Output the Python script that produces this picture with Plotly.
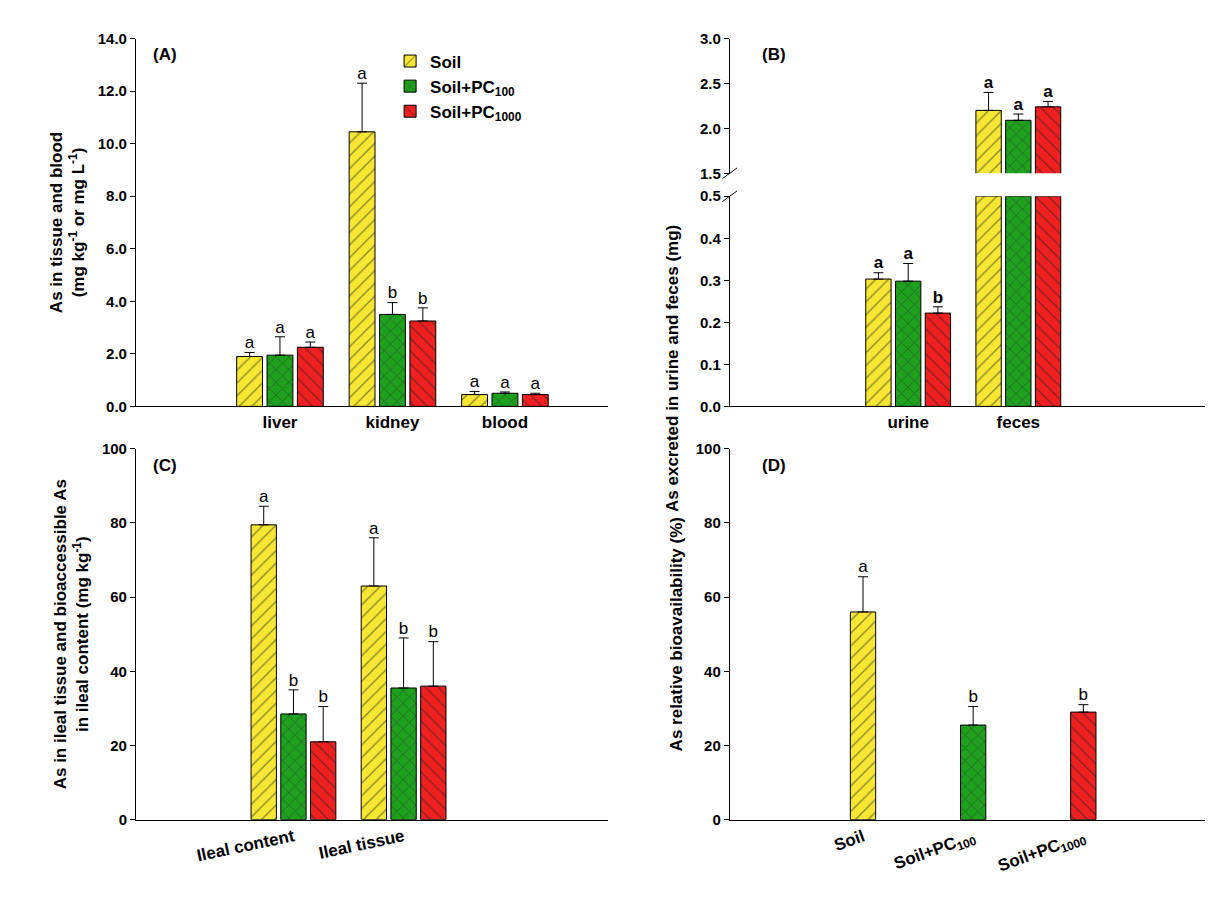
import plotly.graph_objects as go

# ---- data ----
groups = ["Soil", "Soil+PC<sub>100</sub>", "Soil+PC<sub>1000</sub>"]
colors = ["#F7E733", "#1FA01F", "#F02020"]
shapes = ["/", "x", "\\"]

a_cats = ["liver", "kidney", "blood"]
a_vals = [[1.9, 10.45, 0.45], [1.95, 3.5, 0.5], [2.25, 3.25, 0.45]]
a_errs = [[0.15, 1.85, 0.12], [0.7, 0.45, 0.05], [0.2, 0.5, 0.05]]
a_lets = [["a", "a", "a"], ["a", "b", "a"], ["a", "b", "a"]]

b_cats = ["urine", "feces"]
b_vals = [[0.303, 2.2], [0.298, 2.09], [0.222, 2.24]]
b_errs = [[0.015, 0.2], [0.042, 0.07], [0.015, 0.06]]
b_lets = [["a", "a"], ["a", "a"], ["b", "a"]]

c_cats = ["Ileal content", "Ileal tissue"]
c_vals = [[79.5, 63.0], [28.5, 35.5], [21.0, 36.0]]
c_errs = [[5.0, 13.0], [6.5, 13.5], [9.5, 12.0]]
c_lets = [["a", "a"], ["b", "b"], ["b", "b"]]

d_vals = [56.0, 25.5, 29.0]
d_errs = [9.5, 5.0, 2.0]
d_lets = ["a", "b", "b"]

FONT = "Liberation Sans, Arial"
offs = [-0.27, 0, 0.27]
W = 0.23

fig = go.Figure()


def marker(g):
    return dict(color=colors[g], line=dict(color="black", width=1),
                pattern=dict(shape=shapes[g], fgcolor="#222", size=9, solidity=0.15))


def err(arr):
    return dict(type="data", symmetric=False, array=arr, arrayminus=[0] * len(arr),
                color="black", thickness=1, width=5)


def letters(xa, ya, xs, tops, lets, bold=False):
    txt = ["<b>%s</b>" % t if bold else t for t in lets]
    fig.add_trace(go.Scatter(
        x=xs, y=tops, xaxis=xa, yaxis=ya, mode="text", text=txt, textposition="top center",
        showlegend=False, textfont=dict(size=17, family=FONT, color="black")))


def bars(xa, ya, cats, vals, errs, lets, legend=False, bold=False):
    for g in range(3):
        xs = [i + offs[g] for i in range(len(cats))]
        fig.add_trace(go.Bar(x=xs, y=vals[g], width=W, xaxis=xa, yaxis=ya,
                             name="<b>%s</b>" % groups[g], showlegend=legend,
                             marker=marker(g), error_y=err(errs[g])))
        letters(xa, ya, xs, [v + e for v, e in zip(vals[g], errs[g])], lets[g], bold)


bars("x", "y", a_cats, a_vals, a_errs, a_lets, legend=True)

# panel B: lower part (0-0.5, feces bars clipped) and upper part (1.5-3.0)
for g in range(3):
    xs = [i + offs[g] for i in range(2)]
    fig.add_trace(go.Bar(x=xs, y=[min(v, 0.5) for v in b_vals[g]], width=W, xaxis="x2",
                         yaxis="y2", showlegend=False, marker=marker(g)))
    fig.add_trace(go.Scatter(x=[xs[0]], y=[b_vals[g][0]], xaxis="x2", yaxis="y2", mode="markers",
                             marker=dict(size=1, color="rgba(0,0,0,0)"), showlegend=False,
                             error_y=err([b_errs[g][0]])))
    letters("x2", "y2", [xs[0]], [b_vals[g][0] + b_errs[g][0]], [b_lets[g][0]], True)
    fig.add_trace(go.Bar(x=xs, y=b_vals[g], width=W, xaxis="x5", yaxis="y5", showlegend=False,
                         marker=marker(g), error_y=err(b_errs[g])))
    letters("x5", "y5", [xs[1]], [b_vals[g][1] + b_errs[g][1]], [b_lets[g][1]], True)

bars("x3", "y3", c_cats, c_vals, c_errs, c_lets)

d_x = [0, 1, 2]
for g in range(3):
    fig.add_trace(go.Bar(x=[d_x[g]], y=[d_vals[g]], width=W, xaxis="x4", yaxis="y4",
                         showlegend=False, marker=marker(g), error_y=err([d_errs[g]])))
letters("x4", "y4", d_x, [v + e for v, e in zip(d_vals, d_errs)], d_lets)

yax = dict(showline=True, linecolor="black", linewidth=1, ticks="outside", ticklen=5,
           tickcolor="black", showgrid=False, zeroline=False,
           tickfont=dict(size=15, family=FONT, color="black"),
           tickprefix="<b>", ticksuffix="</b>")
xax = dict(showline=True, linecolor="black", linewidth=1, ticks="", showgrid=False,
           zeroline=False, tickfont=dict(size=17, family=FONT, color="black"))


def bold(lst):
    return ["<b>%s</b>" % c for c in lst]


fig.update_layout(
    width=1213, height=900, plot_bgcolor="white", paper_bgcolor="white",
    margin=dict(l=0, r=0, t=0, b=0), barmode="overlay",
    font=dict(family=FONT, color="black"),
    xaxis=dict(**xax, domain=[0.1055, 0.495], range=[-1.28, 2.92], anchor="y",
               tickvals=[0, 1, 2], ticktext=bold(a_cats)),
    yaxis=dict(**yax, domain=[0.559, 0.9756], range=[0, 14], dtick=2, tickformat=".1f",
               anchor="x",
               title=dict(text="<b>As in tissue and blood<br>(mg kg<sup>-1</sup> or mg L<sup>-1</sup>)</b>",
                          font=dict(size=17), standoff=8)),
    xaxis2=dict(**xax, domain=[0.595, 1.0], range=[-1.62, 2.84], anchor="y2",
                tickvals=[0, 1], ticktext=bold(b_cats)),
    yaxis2=dict(**yax, domain=[0.559, 0.797], range=[0, 0.5], dtick=0.1, tickformat=".1f",
                anchor="x2"),
    xaxis5=dict(domain=[0.595, 1.0], range=[-1.62, 2.84], anchor="y5", visible=False),
    yaxis5=dict(**yax, domain=[0.823, 0.9756], range=[1.5, 3.0], dtick=0.5, tickformat=".1f",
                anchor="x5"),
    xaxis3=dict(**xax, domain=[0.1055, 0.495], range=[-1.43, 2.86], anchor="y3",
                tickvals=[0, 1], ticktext=bold(c_cats), tickangle=-12),
    yaxis3=dict(**yax, domain=[0.091, 0.511], range=[0, 100], dtick=20, anchor="x3",
                title=dict(text="<b>As in ileal tissue and bioaccessible As<br>in ileal content (mg kg<sup>-1</sup>)</b>",
                           font=dict(size=17), standoff=8)),
    xaxis4=dict(**xax, domain=[0.595, 1.0], range=[-1.21, 3.25], anchor="y4",
                tickvals=d_x, ticktext=bold(groups), tickangle=-20),
    yaxis4=dict(**yax, domain=[0.091, 0.511], range=[0, 100], dtick=20, anchor="x4",
                title=dict(text="<b>As relative bioavailability (%)</b>", font=dict(size=17),
                           standoff=8)),
    legend=dict(x=0.315, y=0.97, xanchor="left", yanchor="top", bgcolor="rgba(0,0,0,0)",
                font=dict(size=17, family=FONT), tracegroupgap=6),
)

for txt, x, y in [("(A)", 0.118, 0.97), ("(B)", 0.62, 0.97), ("(C)", 0.118, 0.505), ("(D)", 0.62, 0.505)]:
    fig.add_annotation(text="<b>%s</b>" % txt, x=x, y=y, xref="paper", yref="paper",
                       showarrow=False, xanchor="left", yanchor="top", font=dict(size=17))
fig.add_annotation(text="<b>As excreted in urine and feces (mg)</b>", x=0.548, y=0.767,
                   xref="paper", yref="paper", showarrow=False, textangle=-90,
                   font=dict(size=17))
# axis break marks
for yb in [0.823, 0.797]:
    fig.add_shape(type="line", xref="paper", yref="paper", x0=0.589, x1=0.601,
                  y0=yb - 0.006, y1=yb + 0.006, line=dict(color="black", width=1))

fig.write_html("out.html")
